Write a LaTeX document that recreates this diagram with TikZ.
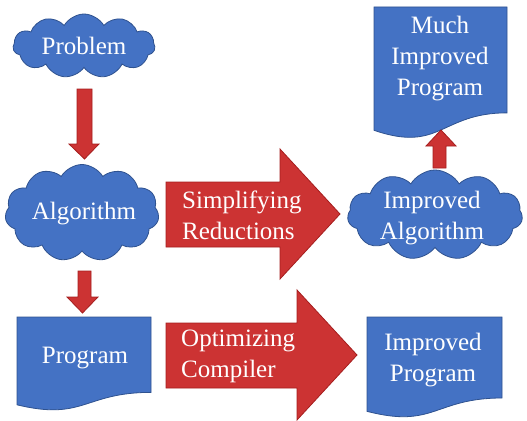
\documentclass[tikz,border=0pt]{standalone}
\usepackage{fontspec}
\setmainfont{Liberation Serif}
\usetikzlibrary{shapes.symbols}
\definecolor{cblue}{RGB}{68,114,196}
\definecolor{cbluedk}{RGB}{47,82,143}
\definecolor{cred}{RGB}{204,51,51}
\definecolor{creddk}{RGB}{165,30,30}
\tikzset{
 cloudbox/.style={cloud, cloud puffs=11, cloud puff arc=120, cloud ignores aspect, draw=cbluedk, fill=cblue, line width=0.8pt, inner sep=0pt},
 lbl/.style={text=white, font=\fontsize{25}{31}\selectfont, align=center, inner sep=0pt},
 lblleft/.style={lbl, align=left},
 blockarrow/.style={fill=cred, draw=creddk, line width=0.8pt, line join=miter},
 docbox/.style={fill=cblue, draw=cbluedk, line width=0.8pt},
}
\newcommand\docshape[5]{%
 \draw[docbox] (#2,#3) -- ({#2+#4},#3) -- ({#2+#4},{#3+0.802*#5})
   .. controls ({#2+0.5*#4},{#3+0.802*#5}) and ({#2+0.5*#4},{#3+1.1075*#5}) .. (#2,{#3+0.934*#5}) -- cycle;
 \coordinate (#1) at ({#2+0.5*#4},{#3+0.5*#5});
}
\begin{document}
\begin{tikzpicture}[x=1pt,y=-1pt]
\useasboundingbox (0,0) rectangle (527,420);
% clouds
\node[cloudbox, minimum width=142pt, minimum height=64pt] (prob) at (84,46) {};
\node[cloudbox, minimum width=154pt, minimum height=97pt] (algo) at (82,213) {};
\node[cloudbox, minimum width=175pt, minimum height=90pt] (ialgo) at (435,215) {};
% documents
\docshape{prog}{17}{317}{134}{94}
\docshape{mip}{374}{7}{133}{132}
\docshape{iprog}{367}{317}{135}{101}
% block arrows
\draw[blockarrow] (77,89) -- (92,89) -- (92,144) -- (99,144) -- (84.5,159) -- (69,144) -- (77,144) -- cycle;
\draw[blockarrow] (78,271) -- (91,271) -- (91,297) -- (98,297) -- (82.5,313) -- (67,297) -- (78,297) -- cycle;
\draw[blockarrow] (433,168) -- (446,168) -- (446,146) -- (456,146) -- (441,130) -- (426,146) -- (433,146) -- cycle;
\draw[blockarrow] (166,182) -- (280,182) -- (280,149) -- (340,214) -- (280,279) -- (280,247) -- (166,247) -- cycle;
\draw[blockarrow] (166,323) -- (297,323) -- (297,290) -- (357,355) -- (297,420) -- (297,388) -- (166,388) -- cycle;
% labels
\node[lbl] (tprob) at (84,46) {Problem};
\node[lbl] (talgo) at (84,214) {Algorithm};
\node[lbl] (tialgo) at (432,218) {Improved\\Algorithm};
\node[lbl] (tprog) at (85,358) {Program};
\node[lbl] (tmip) at (440,59) {Much\\Improved\\Program};
\node[lbl] (tiprog) at (433,360) {Improved\\Program};
\node[lblleft, anchor=west] (tsr) at (182,215) {Simplifying\\Reductions};
\node[lblleft, anchor=west] (toc) at (181,356) {Optimizing\\Compiler};
\end{tikzpicture}
\end{document}
